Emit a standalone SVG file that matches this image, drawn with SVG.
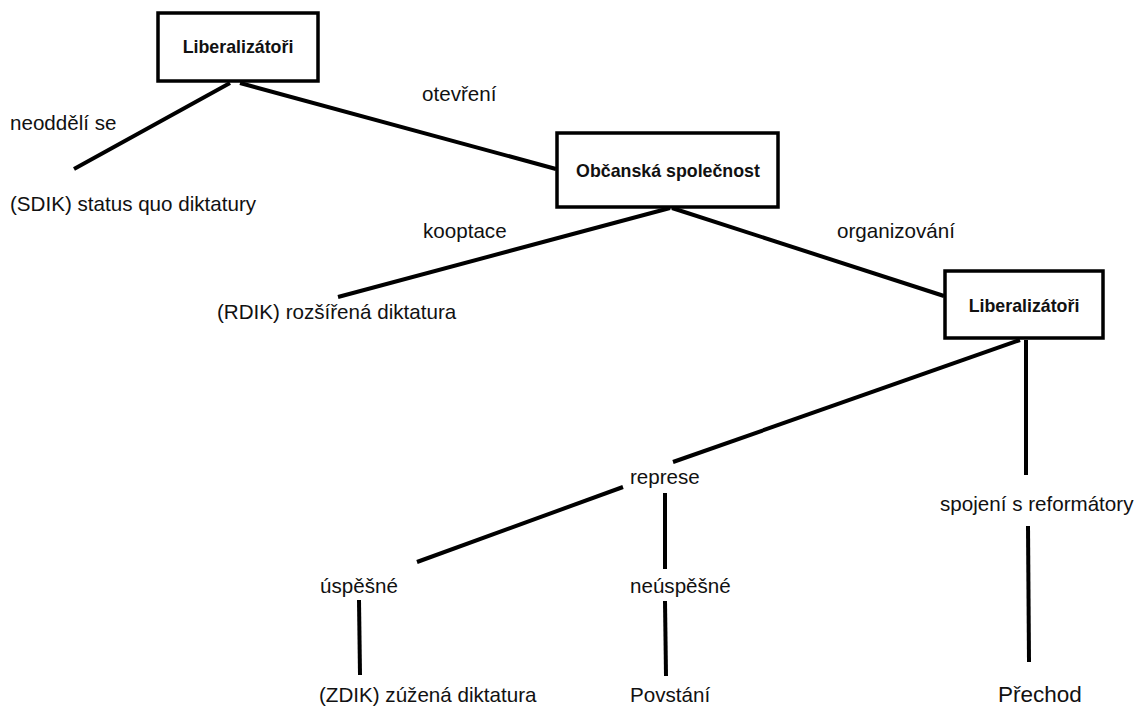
<svg xmlns="http://www.w3.org/2000/svg" width="1138" height="707" viewBox="0 0 1138 707">
<style>
.box{fill:#fff;stroke:#000;stroke-width:3.5}
.bl{font-family:"Liberation Sans",Arial,sans-serif;font-weight:bold;font-size:17.8px;fill:#111;text-anchor:middle}
.t{font-family:"Liberation Sans",Arial,sans-serif;font-size:20.6px;fill:#111}
.c line{stroke:#000;stroke-width:4;stroke-linecap:butt}
</style>
<rect width="1138" height="707" fill="#fff"/>
<g class="c" id="connectors">
<line x1="230" y1="83" x2="74" y2="169"/>
<line x1="240" y1="83" x2="556" y2="169"/>
<line x1="670" y1="208" x2="338" y2="297"/>
<line x1="672" y1="208" x2="944" y2="296"/>
<line x1="1020" y1="340" x2="673" y2="462"/>
<line x1="1026" y1="340" x2="1026" y2="475"/>
<line x1="1028" y1="526" x2="1029" y2="662"/>
<line x1="623" y1="487" x2="417" y2="562"/>
<line x1="665" y1="493" x2="665" y2="569"/>
<line x1="359" y1="600" x2="360" y2="675"/>
<line x1="665" y1="601" x2="666" y2="676"/>
</g>
<g id="n1"><rect class="box" x="158" y="13" width="160" height="68"/><text class="bl" x="238" y="53">Liberalizátoři</text></g>
<g id="n2"><rect class="box" x="557" y="133" width="221" height="74"/><text class="bl" x="668" y="177">Občanská společnost</text></g>
<g id="n3"><rect class="box" x="945" y="271" width="158" height="67"/><text class="bl" x="1024" y="312">Liberalizátoři</text></g>
<g id="labels">
<text class="t" x="10" y="130">neoddělí se</text>
<text class="t" x="10" y="211">(SDIK) status quo diktatury</text>
<text class="t" x="422" y="101">otevření</text>
<text class="t" x="423" y="238">kooptace</text>
<text class="t" x="217" y="319">(RDIK) rozšířená diktatura</text>
<text class="t" x="837" y="238">organizování</text>
<text class="t" x="630" y="484">represe</text>
<text class="t" x="940" y="511">spojení s reformátory</text>
<text class="t" x="320" y="593">úspěšné</text>
<text class="t" x="630" y="593">neúspěšné</text>
<text class="t" x="319" y="702">(ZDIK) zúžená diktatura</text>
<text class="t" x="630" y="702">Povstání</text>
<text class="t" x="998" y="702" style="font-size:22.5px">Přechod</text>
</g>
</svg>
